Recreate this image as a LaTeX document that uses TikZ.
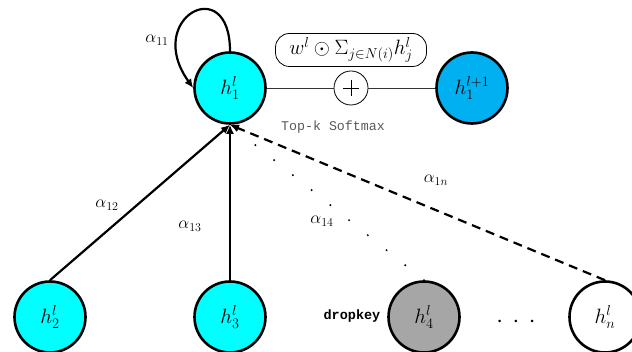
\documentclass[tikz,border=0pt]{standalone}
\usepackage{fontspec}
\usetikzlibrary{arrows.meta}
\setmonofont{Liberation Mono}
\definecolor{cyanA}{RGB}{0,255,255}
\definecolor{blueB}{RGB}{0,176,240}
\definecolor{grayD}{RGB}{166,166,166}
\begin{document}
\begin{tikzpicture}[x=1pt,y=-1pt,
  nd/.style={circle,draw=black,line width=2.6pt,minimum size=71pt,inner sep=0pt,font=\fontsize{20}{22}\selectfont},
  cy/.style={nd,fill=cyanA},
  edge/.style={line width=2.2pt,-{Latex[length=9pt,width=8pt]}},
  lab/.style={font=\fontsize{18.5}{20}\selectfont}]
\useasboundingbox (0,0) rectangle (632,352);
\node[cy] (h1) at (230,88) {$h_1^l$};
\node[nd,fill=blueB] (h1n) at (472,88) {$h_1^{l+1}$};
\node[circle,draw,line width=0.8pt,minimum size=34pt,inner sep=0pt] (plus) at (351,88) {};
\draw[line width=0.8pt] (351,80) -- (351,96) (343,88) -- (359,88);
\node[draw,rounded corners=14pt,line width=0.8pt,minimum width=151pt,minimum height=33pt,font=\fontsize{22}{24}\selectfont] (agg) at (351,50) {$w^l\odot\Sigma_{j\in N(i)}h_j^l$};
\draw[line width=0.7pt,draw=black!80] (h1) -- (plus) -- (h1n);
\node[font=\ttfamily\fontsize{13.3}{15}\selectfont,text=black!65] (tk) at (333,127) {Top-k Softmax};
\node[cy] (h2) at (50,317) {$h_2^l$};
\node[cy] (h3) at (230,317) {$h_3^l$};
\node[nd,fill=grayD] (h4) at (424,317) {$h_4^l$};
\node[nd,fill=white] (hn) at (605,317) {$h_n^l$};
\node[font=\ttfamily\bfseries\fontsize{13.5}{15}\selectfont] (dk) at (352,316) {dropkey};
\node[font=\fontsize{9}{10}\selectfont] (dots) at (516,322) {\textbullet\hspace{9pt}\textbullet\hspace{9pt}\textbullet};
\draw[edge] (h1.north) .. controls +(0,-80) and +(-50,-70) .. (h1.west);
\draw[edge] (h2.north) -- (h1.south);
\draw[edge] (h3.north) -- (h1.south);
\draw[edge,dash pattern=on 9pt off 6pt] (hn.north) -- (h1.south);
\draw[line width=2.2pt,dash pattern=on 0pt off 24pt,line cap=round] (h4.north) -- (h1.south);
\node[lab] (a11) at (157,40) {$\alpha_{11}$};
\node[lab] (a12) at (107,205) {$\alpha_{12}$};
\node[lab] (a13) at (190,226) {$\alpha_{13}$};
\node[lab] (a14) at (322,221) {$\alpha_{14}$};
\node[lab] (a1n) at (436,180) {$\alpha_{1n}$};
\end{tikzpicture}
\end{document}
